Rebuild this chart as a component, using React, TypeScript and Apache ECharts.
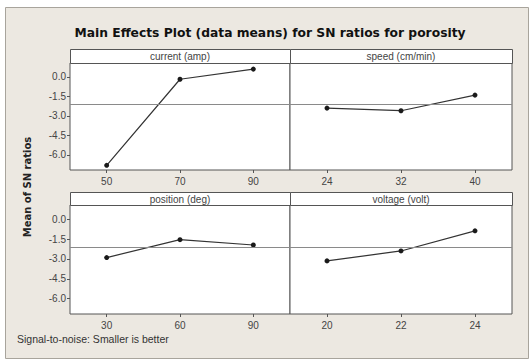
import React, { useEffect, useRef } from "react";
import * as echarts from "echarts";

const titleText = "Main Effects Plot (data means) for SN ratios for porosity";
const yAxisTitle = "Mean of SN ratios";
const footnote = "Signal-to-noise: Smaller is better";

const panelNames = ["current (amp)", "speed (cm/min)", "position (deg)", "voltage (volt)"];

const currentLevels = ["50", "70", "90"];
const speedLevels = ["24", "32", "40"];
const positionLevels = ["30", "60", "90"];
const voltageLevels = ["20", "22", "24"];

const currentSN = [-6.8, -0.18, 0.6];
const speedSN = [-2.4, -2.6, -1.4];
const positionSN = [-2.9, -1.55, -1.95];
const voltageSN = [-3.15, -2.4, -0.88];

const yTickValues = [-6, -4.5, -3, -1.5, 0];
const yMin = -7.16;
const yMax = 1.07;

export default function App() {
  const ref = useRef<HTMLDivElement>(null);

  useEffect(() => {
    if (!ref.current) return;
    const chart = echarts.init(ref.current, null, { renderer: "svg" });

    const levels = [currentLevels, speedLevels, positionLevels, voltageLevels];
    const values = [currentSN, speedSN, positionSN, voltageSN];
    const all = values.flat();
    const grandMean = all.reduce((a, b) => a + b, 0) / all.length;

    const grids = [
      { left: 70, top: 63, width: 220, height: 107 },
      { left: 290, top: 63, width: 222, height: 107 },
      { left: 70, top: 205, width: 220, height: 109 },
      { left: 290, top: 205, width: 222, height: 109 },
    ];
    const headerTops = [49, 49, 192, 192];

    const font = "Liberation Sans";

    const option: any = {
      animation: false,
      backgroundColor: "#ffffff",
      grid: grids.map((g) => ({
        ...g,
        show: true,
        backgroundColor: "#ffffff",
        borderColor: "#555555",
        borderWidth: 1,
        containLabel: false,
      })),
      xAxis: levels.map((lv, i) => ({
        type: "category",
        gridIndex: i,
        position: "bottom",
        data: lv,
        boundaryGap: true,
        axisLine: { show: false, onZero: false },
        axisTick: { show: true, alignWithLabel: true, length: 3, lineStyle: { color: "#555" } },
        axisLabel: { color: "#444", fontSize: 10, fontFamily: font, margin: 6 },
        splitLine: { show: false },
      })),
      yAxis: levels.map((_, i) => ({
        type: "value",
        gridIndex: i,
        min: yMin,
        max: yMax,
        axisLine: { show: false },
        splitLine: { show: false },
        axisTick: {
          show: i % 2 === 0,
          length: 3,
          customValues: yTickValues,
          lineStyle: { color: "#555" },
        },
        axisLabel: {
          show: i % 2 === 0,
          customValues: yTickValues,
          formatter: (v: number) => v.toFixed(1),
          color: "#444",
          fontSize: 10,
          fontFamily: font,
          margin: 4,
        },
      })),
      series: values.map((vals, i) => ({
        type: "line",
        xAxisIndex: i,
        yAxisIndex: i,
        data: vals,
        symbol: "circle",
        symbolSize: 5,
        itemStyle: { color: "#1a1a1a" },
        lineStyle: { color: "#333", width: 1.2 },
        markLine: {
          silent: true,
          symbol: "none",
          label: { show: false },
          lineStyle: { color: "#8a8a8a", width: 1, type: "solid" },
          data: [{ yAxis: grandMean }],
        },
      })),
      graphic: [
        {
          type: "rect",
          z: -10,
          shape: { x: 5.5, y: 7.5, width: 523, height: 351 },
          style: { fill: "#ece8e1", stroke: "#a8a49c", lineWidth: 1 },
        },
        ...grids.map((g, i) => ({
          type: "rect",
          shape: {
            x: g.left + 0.5,
            y: headerTops[i] + 0.5,
            width: g.width,
            height: g.top - headerTops[i],
          },
          style: { fill: "#ffffff", stroke: "#555555", lineWidth: 1 },
        })),
        ...grids.map((g, i) => ({
          type: "text",
          x: g.left + g.width / 2,
          y: (headerTops[i] + g.top) / 2 + 0.5,
          style: {
            text: panelNames[i],
            fill: "#444",
            fontSize: 10,
            fontFamily: font,
            textAlign: "center",
            textVerticalAlign: "middle",
          },
        })),
        {
          type: "text",
          x: 270,
          y: 33,
          style: {
            text: titleText,
            fill: "#111",
            fontSize: 12.3,
            fontWeight: "bold",
            fontFamily: "DejaVu Sans",
            textAlign: "center",
            textVerticalAlign: "middle",
          },
        },
        {
          type: "text",
          x: 27,
          y: 187,
          rotation: Math.PI / 2,
          style: {
            text: yAxisTitle,
            fill: "#222",
            fontSize: 10,
            fontWeight: "bold",
            fontFamily: "DejaVu Sans",
            textAlign: "center",
            textVerticalAlign: "middle",
          },
        },
        {
          type: "text",
          x: 17,
          y: 339,
          style: {
            text: footnote,
            fill: "#333",
            fontSize: 10.5,
            fontFamily: font,
            textAlign: "left",
            textVerticalAlign: "middle",
          },
        },
      ],
    };

    chart.setOption(option);
    return () => chart.dispose();
  }, []);

  return (
    <div
      ref={ref}
      style={{ position: "fixed", left: 0, top: 0, width: 531, height: 360 }}
    />
  );
}
